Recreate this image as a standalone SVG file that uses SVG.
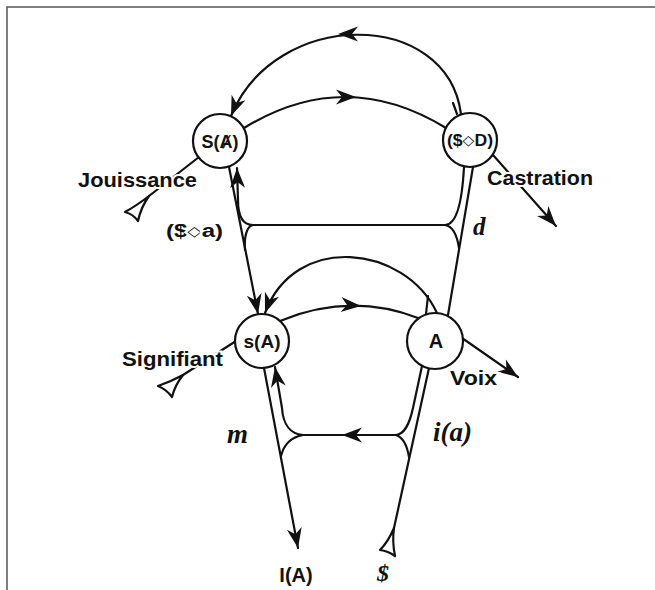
<svg xmlns="http://www.w3.org/2000/svg" xmlns:xlink="http://www.w3.org/1999/xlink" width="655" height="590" viewBox="0 0 655 590">
<style>
.ln{fill:none;stroke:#111;stroke-width:2.2;stroke-linecap:round;stroke-linejoin:round}
.nd{fill:#fff;stroke:#111;stroke-width:2.2}
.nt{font-family:"Liberation Sans","DejaVu Sans",sans-serif;font-weight:bold;font-size:18px;fill:#111;text-anchor:middle}
.lb{font-family:"Liberation Sans","DejaVu Sans",sans-serif;font-weight:bold;font-size:20px;fill:#111;stroke:#fff;stroke-width:4;paint-order:stroke}
.it{font-family:"Liberation Serif","DejaVu Serif",serif;font-style:italic;font-weight:bold;font-size:27px;fill:#111}
.tri{fill:#fff;stroke:#111;stroke-width:2.2;stroke-linejoin:round}
.ah{fill:#111}
.dm{font-size:14px}
</style>
<defs>
<marker id="arr" viewBox="-22 -9 24 18" refX="0" refY="0" markerWidth="24" markerHeight="18" markerUnits="userSpaceOnUse" orient="auto">
<path d="M0,0 L-20,-7.5 L-14,0 L-20,7.5Z" fill="#111"/>
</marker>
<path id="ahd" d="M0,0 L-20,-7.5 L-14,0 L-20,7.5Z"/>
</defs>
<rect width="655" height="590" fill="#fff"/>
<path d="M7,590 L7,7 L655,7" fill="none" stroke="#555" stroke-width="1.5"/>

<g id="connectors">
<path class="ln" d="M461,114 C447,8 275,8 231,116" marker-end="url(#arr)"/>
<path class="ln" d="M453,103 L457,114"/>
<path class="ln" d="M244,128 Q345,66 446,128"/>
<path class="ln" d="M229,167 L258,314" marker-end="url(#arr)"/>
<path class="ln" d="M253,225 C242,225 238,215 238,200 L237,168" marker-end="url(#arr)"/>
<path class="ln" d="M253,225 C247,226 244,236 245,250"/>
<path class="ln" d="M253,225 L445,225"/>
<path class="ln" d="M464,167 C462,205 456,225 445,225"/>
<path class="ln" d="M445,225 C452,226 457,235 459,248"/>
<path class="ln" d="M473,167 L448,315"/>
<path class="ln" d="M437,313 C405,245 295,232 265,313" marker-end="url(#arr)"/>
<path class="ln" d="M428,296 L426,314"/>
<path class="ln" d="M280,321 Q350,292 418,318"/>
<path class="ln" d="M462,338 L518,377" marker-end="url(#arr)"/>
<path class="ln" d="M493,155 L556,226" marker-end="url(#arr)"/>
<path class="ln" d="M199,157 L149,196"/>
<path class="ln" d="M236,341 L183,375"/>
<path class="ln" d="M264,368 L298,548" marker-end="url(#arr)"/>
<path class="ln" d="M303,435 C291,434 283,425 282,408 L275,367" marker-end="url(#arr)"/>
<path class="ln" d="M303,435 C292,437 284,444 281,456"/>
<path class="ln" d="M303,435 L396,435"/>
<path class="ln" d="M396,435 C404,434 409,426 413,408 L422,366"/>
<path class="ln" d="M396,435 C402,437 407,445 409,457"/>
<path class="ln" d="M429,368 L394,528"/>
<use href="#ahd" class="ah" transform="translate(338,34) rotate(180)"/>
<use href="#ahd" class="ah" transform="translate(356,97)"/>
<use href="#ahd" class="ah" transform="translate(361,306) rotate(4)"/>
<use href="#ahd" class="ah" transform="translate(342,435) rotate(180)"/>
<path class="tri" d="M149,196 Q136,206 125,212 Q133,214 138,221 Q141,207 149,196Z"/>
<path class="tri" d="M183,375 Q170,382 158,386 Q166,389 172,397 Q175,385 183,375Z"/>
<path class="tri" d="M394,528 Q388,542 380,550 Q388,551 395,556 Q392,541 394,528Z"/>
</g>

<g id="node-SA">
<circle class="nd" cx="220" cy="141" r="27"/>
<text class="nt" x="220" y="148">S(Ⱥ)</text>
</g>
<g id="node-SD">
<circle class="nd" cx="470" cy="140" r="27"/>
<text class="nt" x="470" y="146" style="font-size:16px" textLength="46" lengthAdjust="spacingAndGlyphs">($<tspan class="dm" dy="-1">◇</tspan><tspan dy="1">D)</tspan></text>
</g>
<g id="node-sA">
<circle class="nd" cx="262" cy="341" r="27"/>
<text class="nt" x="262" y="348" style="font-size:19px">s(A)</text>
</g>
<g id="node-A">
<circle class="nd" cx="435" cy="341" r="28"/>
<text class="nt" x="436" y="348" style="font-size:20px">A</text>
</g>

<g id="labels">
<text class="lb" x="78" y="187" textLength="119" lengthAdjust="spacingAndGlyphs">Jouissance</text>
<text class="lb" x="487" y="185" textLength="106" lengthAdjust="spacingAndGlyphs">Castration</text>
<text class="lb" x="166" y="237" textLength="57" lengthAdjust="spacingAndGlyphs" style="font-size:18px">($<tspan class="dm" dy="-1">◇</tspan><tspan dy="1">a)</tspan></text>
<text class="lb" x="122" y="366" textLength="101" lengthAdjust="spacingAndGlyphs">Signifiant</text>
<text class="lb" x="450" y="385" textLength="47" lengthAdjust="spacingAndGlyphs">Voix</text>
<text class="it" x="473" y="235" style="font-size:25px">d</text>
<text class="it" x="227" y="443">m</text>
<text class="it" x="433" y="441">i(a)</text>
<text class="nt" x="296" y="582" style="font-size:20px">I(A)</text>
<text class="it" x="377" y="581" style="font-size:24px">$</text>
</g>
</svg>
